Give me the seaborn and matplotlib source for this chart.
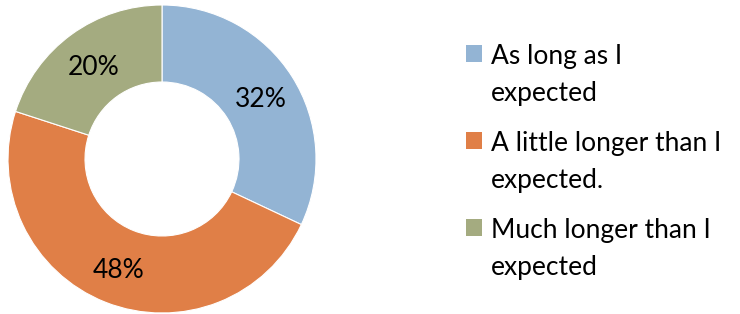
import matplotlib
matplotlib.use("Agg")
import numpy as np
import seaborn as sns
import matplotlib.pyplot as plt
from matplotlib.patches import Patch, Rectangle
from matplotlib.legend_handler import HandlerPatch

# dados
categorias = ["As long as I\nexpected", "A little longer than I\nexpected.", "Much longer than I\nexpected"]
valores = [32, 48, 20]
cores = sns.color_palette(["#93b4d4", "#e07f47", "#a4ab80"])

sns.set_theme(style="white")
plt.rcParams['font.family'] = ['Lato', 'DejaVu Sans']
plt.rcParams['text.color'] = 'black'

fig = plt.figure(figsize=(7.4, 3.14), dpi=100)
ax = fig.add_axes([8 / 740, 1 / 314, 308 / 740, 308 / 314])

wedges, textos = ax.pie(valores, colors=cores, startangle=90, counterclock=False,
                        radius=1, wedgeprops=dict(width=0.5, edgecolor="white", linewidth=0.8))

# rótulos de porcentagem dentro do anel
for w, v in zip(wedges, valores):
    ang = np.deg2rad((w.theta1 + w.theta2) / 2)
    r = 0.76
    ax.text(r * np.cos(ang), r * np.sin(ang) - 0.02, f"{v}%", ha="center", va="center",
            fontsize=19, color="black")

ax.set_xlim(-1, 1)
ax.set_ylim(-1, 1)
ax.set_aspect("equal")
ax.axis("off")


# quadrado alinhado com a primeira linha do rótulo
def quadrado(legend, orig_handle, xdescent, ydescent, width, height, fontsize):
    return Rectangle((-xdescent, -ydescent + fontsize * 0.85), width, height)


handles = [Patch(facecolor=c, edgecolor="none") for c in cores]
leg = fig.legend(handles, categorias, loc="upper left", bbox_to_anchor=(466 / 740, 1 - 44 / 314),
                 frameon=False, fontsize=19, handlelength=0.6, handleheight=0.6,
                 handletextpad=0.35, labelspacing=0.95, borderaxespad=0, borderpad=0,
                 handler_map={Patch: HandlerPatch(patch_func=quadrado)})
for t in leg.get_texts():
    t.set_linespacing(1.6)
    t.set_color("black")

fig.savefig("out.png", dpi=100)
